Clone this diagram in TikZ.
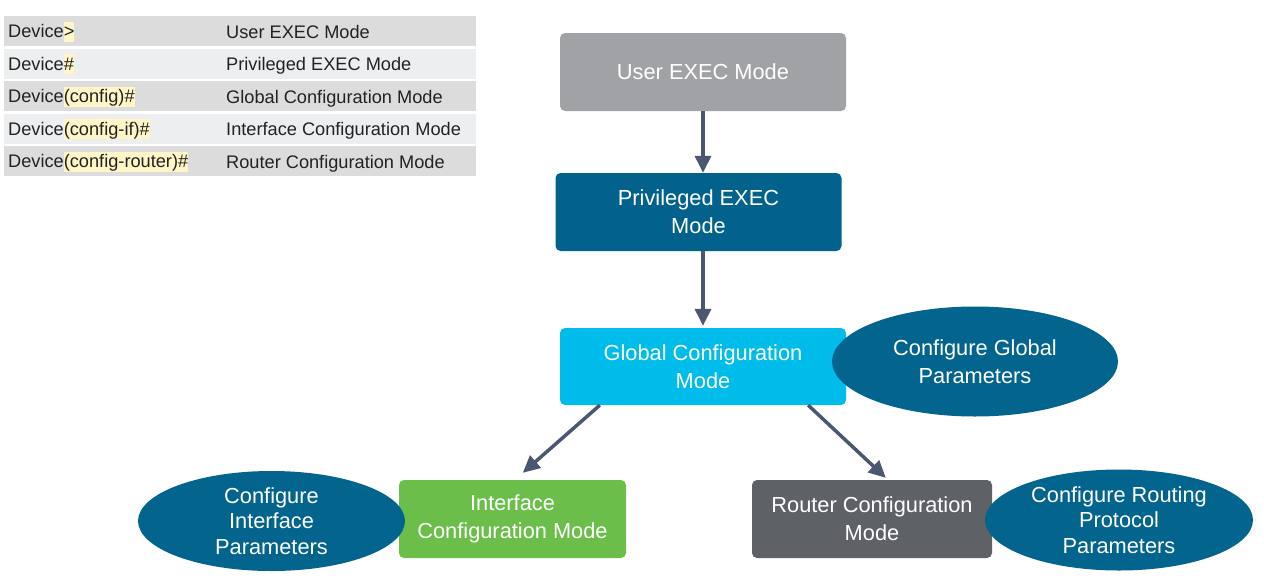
\documentclass[tikz,border=0pt]{standalone}
\usepackage{fontspec}
\setmainfont{Liberation Sans}
\usetikzlibrary{arrows.meta,shapes.geometric}

\definecolor{usergray}{HTML}{A1A2A5}
\definecolor{privblue}{HTML}{02628B}
\definecolor{globalcyan}{HTML}{00BCEB}
\definecolor{intfgreen}{HTML}{6BBE4A}
\definecolor{routergray}{HTML}{5E6166}
\definecolor{taskblue}{HTML}{03648D}
\definecolor{arrowslate}{HTML}{4B5670}
\definecolor{rowdark}{HTML}{DCDCDD}
\definecolor{rowlight}{HTML}{EDEEEF}
\definecolor{prompthl}{HTML}{FFF6C8}
\definecolor{tabletext}{HTML}{222222}

\newcommand{\prompt}[1]{{\setlength{\fboxsep}{0pt}\colorbox{prompthl}{\rule[-4pt]{0pt}{20pt}#1}}}

\begin{document}
\begin{tikzpicture}[x=1pt, y=-1pt,
    mode/.style={rounded corners=5pt, text=white, align=center, inner sep=0pt, minimum width=286pt, minimum height=78pt, font=\fontsize{21.8}{28}\selectfont},
    task/.style={ellipse, fill=taskblue, text=white, align=center, inner sep=0pt, font=\fontsize{21.8}{28}\selectfont},
    row/.style={anchor=west, minimum width=472pt, minimum height=30pt, text width=464pt, text height=17pt, text depth=4pt, inner sep=4pt, align=left, text=tabletext, font=\fontsize{18.2}{21.6}\selectfont},
    modename/.style={anchor=base west, inner sep=0pt, text=tabletext, font=\fontsize{18.2}{21.6}\selectfont},
    arr/.style={-{Triangle[length=17pt,width=16pt]}, line width=3.5pt, draw=arrowslate}]

    \useasboundingbox (0,0) rectangle (1264,581);

    % prompt table
    \node[row, fill=rowdark]  (r1) at (4,31)    {Device\prompt{>}};
    \node[row, fill=rowlight] (r2) at (4,63.5)  {Device\prompt{\#}};
    \node[row, fill=rowdark]  (r3) at (4,96)    {Device\prompt{(config)\#}};
    \node[row, fill=rowlight] (r4) at (4,128.5) {Device\prompt{(config-if)\#}};
    \node[row, fill=rowdark]  (r5) at (4,161)   {Device\prompt{(config-router)\#}};

    \node[modename] (m1) at (226,38)    {User EXEC Mode};
    \node[modename] (m2) at (226,70.5)  {Privileged EXEC Mode};
    \node[modename] (m3) at (226,103)   {Global Configuration Mode};
    \node[modename] (m4) at (226,135.5) {Interface Configuration Mode};
    \node[modename] (m5) at (226,168)   {Router Configuration Mode};

    % modes
    \node[mode, fill=usergray] (user) at (703,72) {User EXEC Mode};
    \node[mode, fill=privblue] (priv) at (698.5,212) {Privileged EXEC\\Mode};
    \node[mode, fill=globalcyan, minimum height=77pt] (global) at (703,366.5) {Global Configuration\\Mode};
    \node[mode, fill=intfgreen, minimum width=227pt] (intf) at (512.5,519) {Interface\\Configuration Mode};
    \node[mode, fill=routergray, minimum width=240pt] (router) at (872,519) {Router Configuration\\Mode};

    % what is configured in each mode
    \node[task, minimum width=286pt, minimum height=110pt] (globalpar) at (975,361.5) {Configure Global\\Parameters};
    \node[task, minimum width=267pt, minimum height=100pt, font=\fontsize{21.8}{25.5}\selectfont] (intfpar) at (271.5,521) {Configure\\Interface\\Parameters};
    \node[task, minimum width=268pt, minimum height=101pt, font=\fontsize{21.8}{25.5}\selectfont] (routerpar) at (1119,520) {Configure Routing\\Protocol\\Parameters};

    \draw[arr] (user.south) -- (user.south |- priv.north);
    \draw[arr] (global.north |- priv.south) -- ([yshift=2pt]global.north);
    \draw[arr] ([xshift=40pt]global.south west) -- ([xshift=124pt,yshift=7pt]intf.north west);
    \draw[arr] ([xshift=-38pt]global.south east) -- ([xshift=134pt,yshift=2pt]router.north west);
\end{tikzpicture}
\end{document}
